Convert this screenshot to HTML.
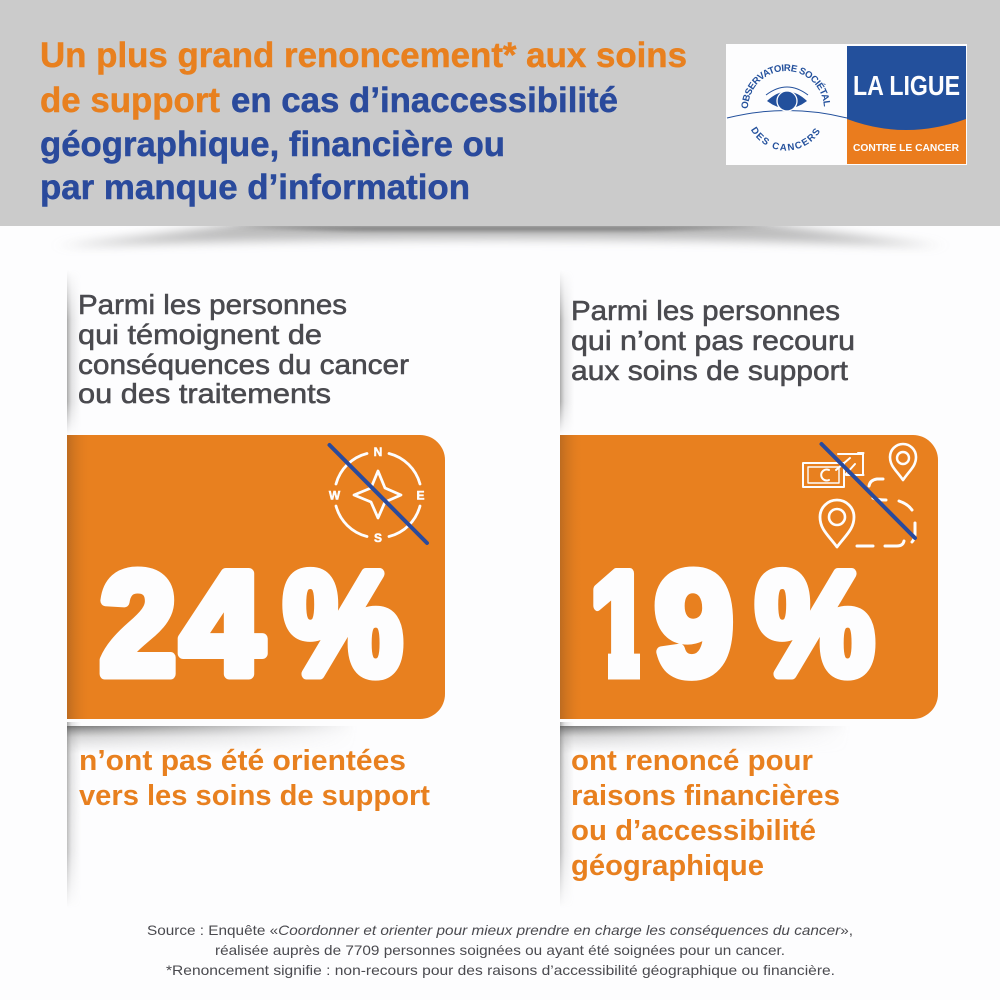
<!DOCTYPE html>
<html lang="fr">
<head>
<meta charset="utf-8">
<title>Un plus grand renoncement aux soins de support</title>
<style>
html,body{margin:0;padding:0;background:#fdfdfe}
svg{display:block}
text{font-family:"Liberation Sans",sans-serif}
.title{font-size:35px;font-weight:700;stroke-width:.5px}
.sub{font-size:27.5px;fill:#4a4a4f;stroke:#4a4a4f;stroke-width:.55px}
.out{font-size:29px;font-weight:700;fill:#e8801f}
.src{font-size:14px;fill:#4a4a4f}
.big{font-size:146px;font-weight:700;fill:#fdfdfe;stroke:#fdfdfe;stroke-width:11px;stroke-linejoin:round}
</style>
</head>
<body>
<svg width="1000" height="1000" viewBox="0 0 1000 1000" xmlns="http://www.w3.org/2000/svg">
<defs>
<filter id="blur6" x="-20%" y="-300%" width="140%" height="700%"><feGaussianBlur stdDeviation="10 5"/></filter>
<filter id="blur2" x="-20%" y="-300%" width="140%" height="700%"><feGaussianBlur stdDeviation="18 2"/></filter>
<linearGradient id="sideShadow" x1="0" x2="1" y1="0" y2="0"><stop offset="0" stop-color="#555" stop-opacity=".5"/><stop offset=".35" stop-color="#888" stop-opacity=".22"/><stop offset="1" stop-color="#999" stop-opacity="0"/></linearGradient>
<linearGradient id="fadeV" x1="0" x2="0" y1="0" y2="1"><stop offset="0" stop-color="#000"/><stop offset=".3" stop-color="#fff"/><stop offset=".8" stop-color="#fff"/><stop offset="1" stop-color="#000"/></linearGradient>
<mask id="sideMaskA" maskUnits="userSpaceOnUse" x="0" y="270" width="1000" height="165"><rect x="0" y="270" width="1000" height="165" fill="url(#fadeV)"/></mask>
<linearGradient id="fadeV2" x1="0" x2="0" y1="0" y2="1"><stop offset="0" stop-color="#fff"/><stop offset=".7" stop-color="#bbb"/><stop offset="1" stop-color="#000"/></linearGradient>
<mask id="sideMaskB" maskUnits="userSpaceOnUse" x="0" y="722" width="1000" height="186"><rect x="0" y="722" width="1000" height="186" fill="url(#fadeV2)"/></mask>
<linearGradient id="underShadow" x1="0" x2="0" y1="0" y2="1"><stop offset="0" stop-color="#555" stop-opacity=".8"/><stop offset=".4" stop-color="#888" stop-opacity=".32"/><stop offset="1" stop-color="#aaa" stop-opacity="0"/></linearGradient>
<linearGradient id="underFade" x1="0" x2="1" y1="0" y2="0"><stop offset="0" stop-color="#fff"/><stop offset=".55" stop-color="#777"/><stop offset="1" stop-color="#000"/></linearGradient>
<mask id="underMaskL" maskUnits="userSpaceOnUse" x="67" y="724" width="290" height="34"><rect x="67" y="724" width="290" height="34" fill="url(#underFade)"/></mask>
<mask id="underMaskR" maskUnits="userSpaceOnUse" x="560" y="724" width="290" height="34"><rect x="560" y="724" width="290" height="34" fill="url(#underFade)"/></mask>
<linearGradient id="boxEdge" x1="0" x2="1" y1="0" y2="0"><stop offset="0" stop-color="#9a5a20" stop-opacity=".55"/><stop offset="1" stop-color="#e8801f" stop-opacity="0"/></linearGradient>
<clipPath id="belowHeader"><rect x="0" y="226" width="1000" height="60"/></clipPath>
<path id="arcTop" d="M 748 109 A 38 38 0 0 1 824 109"/>
<path id="arcBottom" d="M 750 128 A 40 40 0 0 0 822 128"/>
</defs>

<rect x="0" y="0" width="1000" height="1000" fill="#fdfdfe"/>
<rect x="0" y="0" width="1000" height="226" fill="#cbcbcb"/>

<g clip-path="url(#belowHeader)">
  <path d="M 60 246 Q 220 228 260 218 L 740 218 Q 790 228 940 246 Q 500 232 60 246 Z" fill="#888" opacity=".55" filter="url(#blur6)"/>
  <path d="M 230 226 L 770 226 L 650 231 L 350 231 Z" fill="#666" opacity=".7" filter="url(#blur2)"/>
</g>

<g>
  <text class="title" x="40" y="67" textLength="647" lengthAdjust="spacingAndGlyphs" fill="#e8801f" stroke="#e8801f">Un plus grand renoncement* aux soins</text>
  <text class="title" x="40" y="112" textLength="180" lengthAdjust="spacingAndGlyphs" fill="#e8801f" stroke="#e8801f">de support</text>
  <text class="title" x="231" y="112" textLength="387" lengthAdjust="spacingAndGlyphs" fill="#2a4a9c" stroke="#2a4a9c">en cas d’inaccessibilité</text>
  <text class="title" x="40" y="156" textLength="465" lengthAdjust="spacingAndGlyphs" fill="#2a4a9c" stroke="#2a4a9c">géographique, financière ou</text>
  <text class="title" x="40" y="199" textLength="430" lengthAdjust="spacingAndGlyphs" fill="#2a4a9c" stroke="#2a4a9c">par manque d’information</text>
</g>

<g>
  <rect x="726" y="44" width="241" height="121" fill="#fdfdfe"/>
  <path d="M 847 46 H 966 V 164 H 847 Z" fill="#ea7c1e"/>
  <path d="M 847 46 H 966 V 119 Q 906 141 847 119 Z" fill="#23509c"/>
  <text x="853" y="95" font-size="28" font-weight="700" fill="#fdfdfe" textLength="107" lengthAdjust="spacingAndGlyphs">LA LIGUE</text>
  <text x="853" y="151" font-size="10.5" font-weight="700" fill="#fdfdfe" textLength="106" lengthAdjust="spacingAndGlyphs">CONTRE LE CANCER</text>
  <path d="M 727 118 Q 787 103 847 118" fill="none" stroke="#23509c" stroke-width="1"/>
  <path d="M 766 95 Q 787 79 808 95" fill="none" stroke="#23509c" stroke-width="1"/>
  <path d="M 767 101 Q 787 82 807 101 Q 787 116 767 101 Z" fill="#23509c"/>
  <circle cx="787" cy="101" r="10" fill="#23509c" stroke="#fdfdfe" stroke-width="1.3"/>
  <text font-size="9.6" font-weight="700" fill="#23509c"><textPath href="#arcTop" textLength="117" lengthAdjust="spacing">OBSERVATOIRE SOCIÉTAL</textPath></text>
  <text font-size="9.6" font-weight="700" fill="#23509c"><textPath href="#arcBottom" startOffset="2%" textLength="84" lengthAdjust="spacing">DES CANCERS</textPath></text>
</g>

<g>
  <g mask="url(#sideMaskA)">
    <rect x="67" y="270" width="14" height="165" fill="url(#sideShadow)"/>
    <rect x="560" y="270" width="14" height="165" fill="url(#sideShadow)"/>
  </g>
  <g mask="url(#sideMaskB)">
    <rect x="67" y="722" width="14" height="186" fill="url(#sideShadow)"/>
    <rect x="560" y="722" width="14" height="186" fill="url(#sideShadow)"/>
  </g>
  <rect x="67" y="726" width="290" height="28" fill="url(#underShadow)" mask="url(#underMaskL)"/>
  <rect x="560" y="726" width="290" height="28" fill="url(#underShadow)" mask="url(#underMaskR)"/>
</g>

<g>
  <text class="sub" x="78" y="314" textLength="269" lengthAdjust="spacingAndGlyphs">Parmi les personnes</text>
  <text class="sub" x="78" y="344" textLength="244" lengthAdjust="spacingAndGlyphs">qui témoignent de</text>
  <text class="sub" x="78" y="374" textLength="331" lengthAdjust="spacingAndGlyphs">conséquences du cancer</text>
  <text class="sub" x="78" y="403" textLength="253" lengthAdjust="spacingAndGlyphs">ou des traitements</text>
</g>
<g>
  <text class="sub" x="571" y="320" textLength="269" lengthAdjust="spacingAndGlyphs">Parmi les personnes</text>
  <text class="sub" x="571" y="350" textLength="284" lengthAdjust="spacingAndGlyphs">qui n’ont pas recouru</text>
  <text class="sub" x="571" y="380" textLength="277" lengthAdjust="spacingAndGlyphs">aux soins de support</text>
</g>

<g>
  <path d="M 67 435 H 420 A 25 25 0 0 1 445 460 V 694 A 25 25 0 0 1 420 719 H 67 Z" fill="#e8801f"/>
  <rect x="67" y="435" width="24" height="284" fill="url(#boxEdge)"/>
  <g fill="none" stroke="#fdfdfe" stroke-width="2.8" stroke-linecap="round">
    <path d="M 389 453.5 A 43 43 0 0 1 420 484"/>
    <path d="M 420 506 A 43 43 0 0 1 389 536.5"/>
    <path d="M 367 536.5 A 43 43 0 0 1 336 506"/>
    <path d="M 336 484 A 43 43 0 0 1 367 453.5"/>
    <path d="M 378 471 L 385 488 L 401 495 L 385 502 L 378 518 L 371 502 L 354 495 L 371 488 Z" stroke-linejoin="round"/>
  </g>
  <g font-size="12" font-weight="700" fill="#fdfdfe" stroke="#fdfdfe" stroke-width=".5" text-anchor="middle">
    <text x="378" y="456">N</text>
    <text x="420.5" y="499.5">E</text>
    <text x="378" y="542">S</text>
    <text x="334.5" y="499.5">W</text>
  </g>
  <line x1="329.5" y1="445" x2="427" y2="543" stroke="#2a4a9c" stroke-width="4" stroke-linecap="round"/>
  <text class="big" y="674"><tspan x="100" textLength="76" lengthAdjust="spacingAndGlyphs">2</tspan><tspan x="181" textLength="82" lengthAdjust="spacingAndGlyphs">4</tspan><tspan x="284" textLength="118" lengthAdjust="spacingAndGlyphs">%</tspan></text>
</g>

<g>
  <path d="M 560 435 H 913 A 25 25 0 0 1 938 460 V 694 A 25 25 0 0 1 913 719 H 560 Z" fill="#e8801f"/>
  <rect x="560" y="435" width="24" height="284" fill="url(#boxEdge)"/>
  <g fill="none" stroke="#fdfdfe" stroke-width="2" stroke-linecap="round" stroke-linejoin="round">
    <rect x="803" y="463" width="41" height="24"/>
    <path d="M 808 467 H 839 V 483 H 808 Z" stroke-width="1.4"/>
    <path d="M 829 470 A 5.5 5.5 0 1 0 829 480" />
    <path d="M 836 470 L 850 458 M 846 474 L 855 464" />
    <path d="M 838 454 H 863 V 475 H 846" />
    <path d="M 858 453 H 863.5 M 858 475 H 863.5" />
    <path d="M 903 480 C 896 470 890 466 890 457 A 13 13 0 0 1 916 457 C 916 466 910 470 903 480 Z" stroke-width="2.6"/>
    <circle cx="903" cy="458" r="6" stroke-width="2.4"/>
    <path d="M 837 547 C 828 535 820 529 820 517 A 17 17 0 0 1 854 517 C 854 529 846 535 837 547 Z" stroke-width="2.8"/>
    <circle cx="837" cy="517" r="8" stroke-width="2.6"/>
    <g stroke-width="3">
      <path d="M 857 546 H 873"/>
      <path d="M 885 546 H 897 Q 903 546 904 541"/>
      <path d="M 915 523 V 535 Q 914 540 912 542"/>
      <path d="M 899 501 Q 908 504 912 510"/>
      <path d="M 873 498 Q 877 500 886 500"/>
      <path d="M 883 479 H 877 Q 870 480 869 486"/>
    </g>
  </g>
  <line x1="821.5" y1="444" x2="915" y2="538" stroke="#2a4a9c" stroke-width="4" stroke-linecap="round"/>
  <text class="big" y="674"><tspan x="590" textLength="60" lengthAdjust="spacingAndGlyphs">1</tspan><tspan x="655" textLength="78" lengthAdjust="spacingAndGlyphs">9</tspan><tspan x="756" textLength="118" lengthAdjust="spacingAndGlyphs">%</tspan></text>
  <rect x="586" y="648" width="22" height="36" fill="#e8801f"/>
  <rect x="640" y="648" width="13" height="36" fill="#e8801f"/>
</g>

<g>
  <text class="out" x="79" y="770" textLength="327" lengthAdjust="spacingAndGlyphs">n’ont pas été orientées</text>
  <text class="out" x="79" y="805" textLength="351" lengthAdjust="spacingAndGlyphs">vers les soins de support</text>
</g>
<g>
  <text class="out" x="571" y="770" textLength="242" lengthAdjust="spacingAndGlyphs">ont renoncé pour</text>
  <text class="out" x="571" y="805" textLength="269" lengthAdjust="spacingAndGlyphs">raisons financières</text>
  <text class="out" x="571" y="840" textLength="245" lengthAdjust="spacingAndGlyphs">ou d’accessibilité</text>
  <text class="out" x="571" y="875" textLength="193" lengthAdjust="spacingAndGlyphs">géographique</text>
</g>

<g>
  <text class="src" x="147" y="935" textLength="706" lengthAdjust="spacingAndGlyphs">Source : Enquête «<tspan font-style="italic">Coordonner et orienter pour mieux prendre en charge les conséquences du cancer</tspan>»,</text>
  <text class="src" x="215" y="955" textLength="570" lengthAdjust="spacingAndGlyphs">réalisée auprès de 7709 personnes soignées ou ayant été soignées pour un cancer.</text>
  <text class="src" x="166" y="975" textLength="669" lengthAdjust="spacingAndGlyphs">*Renoncement signifie : non-recours pour des raisons d’accessibilité géographique ou financière.</text>
</g>
</svg>
</body>
</html>
